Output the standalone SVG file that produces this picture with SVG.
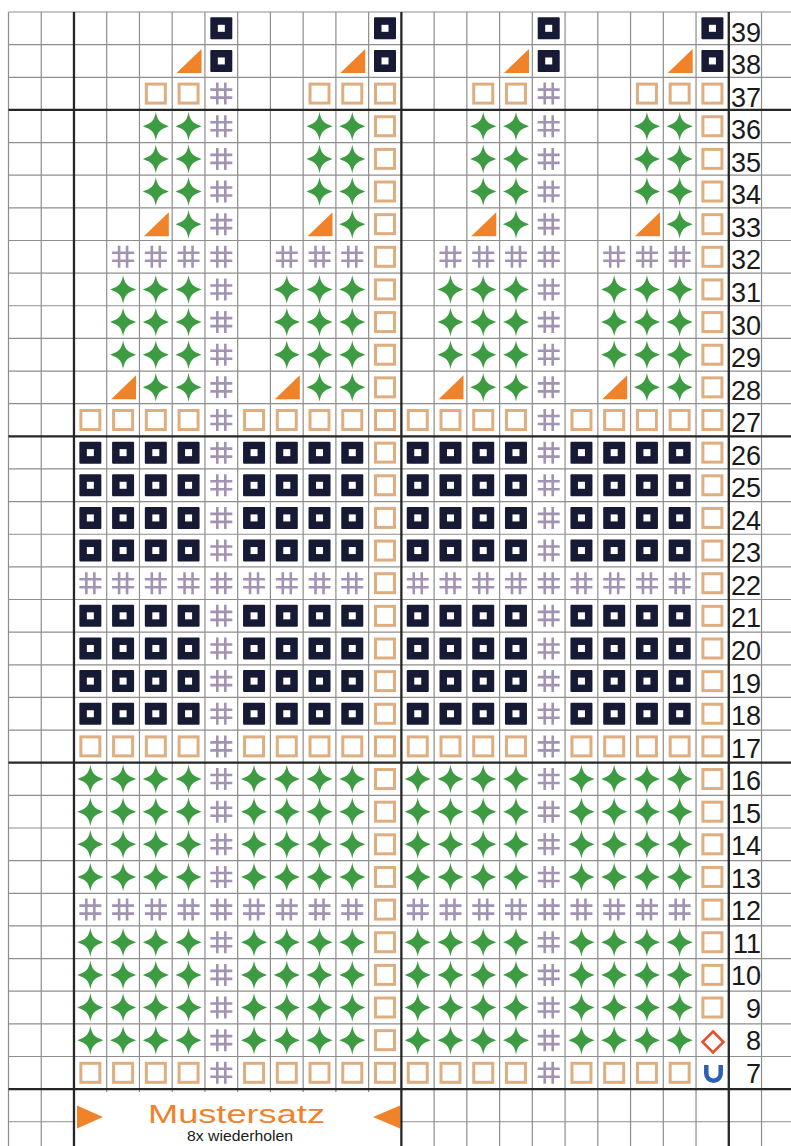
<svg xmlns="http://www.w3.org/2000/svg" xmlns:xlink="http://www.w3.org/1999/xlink" width="791" height="1146" viewBox="0 0 791 1146">
<style>
.thin{stroke:#8e8e8e;stroke-width:1.2;fill:none}
.thick{stroke:#262626;stroke-width:2.3;fill:none}
.num{font-family:"Liberation Sans",Arial,sans-serif;font-size:27px;fill:#1a1a1a;text-anchor:end}
</style>
<defs>
<g id="dk"><rect x="-11" y="-11" width="22" height="22" rx="1" fill="#171a35"/><rect x="-3.5" y="-3.5" width="7" height="7" fill="#fff"/></g>
<rect id="tn" x="-9.5" y="-9.5" width="19" height="19" fill="none" stroke="#deae80" stroke-width="3"/>
<path id="hs" d="M-4,-11V11M4,-11V11M-11,-4H11M-11,4H11" fill="none" stroke="#a393b3" stroke-width="2.6"/>
<path id="st" d="M0,-14.5C1.3,-5.5 4.5,-3.2 13,0C4.5,3.2 1.3,5.5 0,14.5C-1.3,5.5 -4.5,3.2 -13,0C-4.5,-3.2 -1.3,-5.5 0,-14.5Z" fill="#3d9b41"/>
<path id="tr" d="M-12,12H13V-12Z" fill="#f0822a"/>
<g id="r4dk"><use href="#dk"/><use href="#dk" x="32.74"/><use href="#dk" x="65.48"/><use href="#dk" x="98.22"/></g>
<g id="r4st"><use href="#st"/><use href="#st" x="32.74"/><use href="#st" x="65.48"/><use href="#st" x="98.22"/></g>
<g id="r4hs"><use href="#hs"/><use href="#hs" x="32.74"/><use href="#hs" x="65.48"/><use href="#hs" x="98.22"/></g>
<g id="r4tn"><use href="#tn"/><use href="#tn" x="32.74"/><use href="#tn" x="65.48"/><use href="#tn" x="98.22"/></g>
<g id="blk">
<use href="#tr" x="98.22" y="60.96"/>
<use href="#tn" x="65.48" y="93.6"/><use href="#tn" x="98.22" y="93.6"/>
<use href="#st" x="65.48" y="126.24"/><use href="#st" x="98.22" y="126.24"/>
<use href="#st" x="65.48" y="158.88"/><use href="#st" x="98.22" y="158.88"/>
<use href="#st" x="65.48" y="191.52"/><use href="#st" x="98.22" y="191.52"/>
<use href="#tr" x="65.48" y="224.16"/><use href="#st" x="98.22" y="224.16"/>
<use href="#hs" x="32.74" y="256.8"/><use href="#hs" x="65.48" y="256.8"/><use href="#hs" x="98.22" y="256.8"/>
<use href="#st" x="32.74" y="289.44"/><use href="#st" x="65.48" y="289.44"/><use href="#st" x="98.22" y="289.44"/>
<use href="#st" x="32.74" y="322.08"/><use href="#st" x="65.48" y="322.08"/><use href="#st" x="98.22" y="322.08"/>
<use href="#st" x="32.74" y="354.72"/><use href="#st" x="65.48" y="354.72"/><use href="#st" x="98.22" y="354.72"/>
<use href="#tr" x="32.74" y="387.36"/><use href="#st" x="65.48" y="387.36"/><use href="#st" x="98.22" y="387.36"/>
<use href="#r4tn" y="420"/>
<use href="#r4dk" y="452.64"/><use href="#r4dk" y="485.28"/><use href="#r4dk" y="517.92"/><use href="#r4dk" y="550.56"/>
<use href="#r4hs" y="583.2"/>
<use href="#r4dk" y="615.84"/><use href="#r4dk" y="648.48"/><use href="#r4dk" y="681.12"/><use href="#r4dk" y="713.76"/>
<use href="#r4tn" y="746.4"/>
<use href="#r4st" y="779.04"/><use href="#r4st" y="811.68"/><use href="#r4st" y="844.32"/><use href="#r4st" y="876.96"/>
<use href="#r4hs" y="909.6"/>
<use href="#r4st" y="942.24"/><use href="#r4st" y="974.88"/><use href="#r4st" y="1007.52"/><use href="#r4st" y="1040.16"/>
<use href="#r4tn" y="1072.8"/>
</g>
<g id="colA">
<use href="#dk" y="28.32"/><use href="#dk" y="60.96"/>
<use href="#hs" y="93.6"/><use href="#hs" y="126.24"/><use href="#hs" y="158.88"/><use href="#hs" y="191.52"/><use href="#hs" y="224.16"/><use href="#hs" y="256.8"/><use href="#hs" y="289.44"/><use href="#hs" y="322.08"/><use href="#hs" y="354.72"/><use href="#hs" y="387.36"/><use href="#hs" y="420"/><use href="#hs" y="452.64"/><use href="#hs" y="485.28"/><use href="#hs" y="517.92"/><use href="#hs" y="550.56"/><use href="#hs" y="583.2"/><use href="#hs" y="615.84"/><use href="#hs" y="648.48"/><use href="#hs" y="681.12"/><use href="#hs" y="713.76"/><use href="#hs" y="746.4"/><use href="#hs" y="779.04"/><use href="#hs" y="811.68"/><use href="#hs" y="844.32"/><use href="#hs" y="876.96"/><use href="#hs" y="909.6"/><use href="#hs" y="942.24"/><use href="#hs" y="974.88"/><use href="#hs" y="1007.52"/><use href="#hs" y="1040.16"/><use href="#hs" y="1072.8"/>
</g>
<g id="colB">
<use href="#dk" y="28.32"/><use href="#dk" y="60.96"/>
<use href="#tn" y="93.6"/><use href="#tn" y="126.24"/><use href="#tn" y="158.88"/><use href="#tn" y="191.52"/><use href="#tn" y="224.16"/><use href="#tn" y="256.8"/><use href="#tn" y="289.44"/><use href="#tn" y="322.08"/><use href="#tn" y="354.72"/><use href="#tn" y="387.36"/><use href="#tn" y="420"/><use href="#tn" y="452.64"/><use href="#tn" y="485.28"/><use href="#tn" y="517.92"/><use href="#tn" y="550.56"/><use href="#tn" y="583.2"/><use href="#tn" y="615.84"/><use href="#tn" y="648.48"/><use href="#tn" y="681.12"/><use href="#tn" y="713.76"/><use href="#tn" y="746.4"/><use href="#tn" y="779.04"/><use href="#tn" y="811.68"/><use href="#tn" y="844.32"/><use href="#tn" y="876.96"/><use href="#tn" y="909.6"/><use href="#tn" y="942.24"/><use href="#tn" y="974.88"/><use href="#tn" y="1007.52"/>
</g>
</defs>
<rect width="791" height="1146" fill="#fff"/>
<g id="grid">
<path class="thin" d="M8.5,12V1146M41.24,12V1146M106.72,12V1146M139.46,12V1146M172.2,12V1146M204.94,12V1146M237.68,12V1146M270.42,12V1146M303.16,12V1146M335.9,12V1146M368.64,12V1146M434.12,12V1146M466.86,12V1146M499.6,12V1146M532.34,12V1146M565.08,12V1146M597.82,12V1146M630.56,12V1146M663.3,12V1146M696.04,12V1146M761.52,12V1146"/>
<path class="thin" d="M8.5,12H791M8.5,44.64H791M8.5,77.28H791M8.5,142.56H791M8.5,175.2H791M8.5,207.84H791M8.5,240.48H791M8.5,273.12H791M8.5,305.76H791M8.5,338.4H791M8.5,371.04H791M8.5,403.68H791M8.5,468.96H791M8.5,501.6H791M8.5,534.24H791M8.5,566.88H791M8.5,599.52H791M8.5,632.16H791M8.5,664.8H791M8.5,697.44H791M8.5,730.08H791M8.5,795.36H791M8.5,828H791M8.5,860.64H791M8.5,893.28H791M8.5,925.92H791M8.5,958.56H791M8.5,991.2H791M8.5,1023.84H791M8.5,1056.48H791M8.5,1121.76H791"/>
<path class="thick" d="M8.5,109.92H791M8.5,436.32H791M8.5,762.72H791M8.5,1089.12H791"/>
<rect x="75.3" y="1092" width="324.8" height="54" fill="#fff"/>
<path class="thick" d="M73.98,12V1146M401.38,12V1146M728.78,12V1146"/>
</g>
<g id="motif-1"><use href="#blk" x="90.35"/><use href="#colA" x="221.31"/></g>
<g id="motif-2"><use href="#blk" x="254.05"/><use href="#colB" x="385.01"/><use href="#tn" x="385.01" y="1040.16"/><use href="#tn" x="385.01" y="1072.8"/></g>
<g id="motif-3"><use href="#blk" x="417.75"/><use href="#colA" x="548.71"/></g>
<g id="motif-4"><use href="#blk" x="581.45"/><use href="#colB" x="712.41"/>
<path d="M713,1031.5L723.5,1042L713,1052.5L702.5,1042Z" fill="none" stroke="#e4502e" stroke-width="2.6"/>
<path d="M706.3,1065V1073.5A7.2,7.2 0 0 0 720.7,1073.5V1065" fill="none" stroke="#2d5fb4" stroke-width="4.5"/>
</g>
<g id="row-numbers">
<text class="num" x="761" y="41.7">39</text>
<text class="num" x="761" y="74.24">38</text>
<text class="num" x="761" y="106.78">37</text>
<text class="num" x="761" y="139.32">36</text>
<text class="num" x="761" y="171.86">35</text>
<text class="num" x="761" y="204.4">34</text>
<text class="num" x="761" y="236.94">33</text>
<text class="num" x="761" y="269.48">32</text>
<text class="num" x="761" y="302.02">31</text>
<text class="num" x="761" y="334.56">30</text>
<text class="num" x="761" y="367.1">29</text>
<text class="num" x="761" y="399.64">28</text>
<text class="num" x="761" y="432.18">27</text>
<text class="num" x="761" y="464.72">26</text>
<text class="num" x="761" y="497.26">25</text>
<text class="num" x="761" y="529.8">24</text>
<text class="num" x="761" y="562.34">23</text>
<text class="num" x="761" y="594.88">22</text>
<text class="num" x="761" y="627.42">21</text>
<text class="num" x="761" y="659.96">20</text>
<text class="num" x="761" y="692.5">19</text>
<text class="num" x="761" y="725.04">18</text>
<text class="num" x="761" y="757.58">17</text>
<text class="num" x="761" y="790.12">16</text>
<text class="num" x="761" y="822.66">15</text>
<text class="num" x="761" y="855.2">14</text>
<text class="num" x="761" y="887.74">13</text>
<text class="num" x="761" y="920.28">12</text>
<text class="num" x="761" y="952.82">11</text>
<text class="num" x="761" y="985.36">10</text>
<text class="num" x="761" y="1017.9">9</text>
<text class="num" x="761" y="1050.44">8</text>
<text class="num" x="761" y="1082.98">7</text>
</g>
<g id="mustersatz">
<path d="M77,1105.5L103,1117L77,1128.5Z" fill="#f0822a"/>
<path d="M400,1105.5L373,1117L400,1128.5Z" fill="#f0822a"/>
<text x="148" y="1123" font-family="Liberation Sans, Arial, sans-serif" font-size="25" fill="#f0822a" textLength="177" lengthAdjust="spacingAndGlyphs">Mustersatz</text>
<text x="187" y="1141" font-family="Liberation Sans, Arial, sans-serif" font-size="14" fill="#1a1a1a" textLength="106" lengthAdjust="spacingAndGlyphs">8x wiederholen</text>
</g>
</svg>
